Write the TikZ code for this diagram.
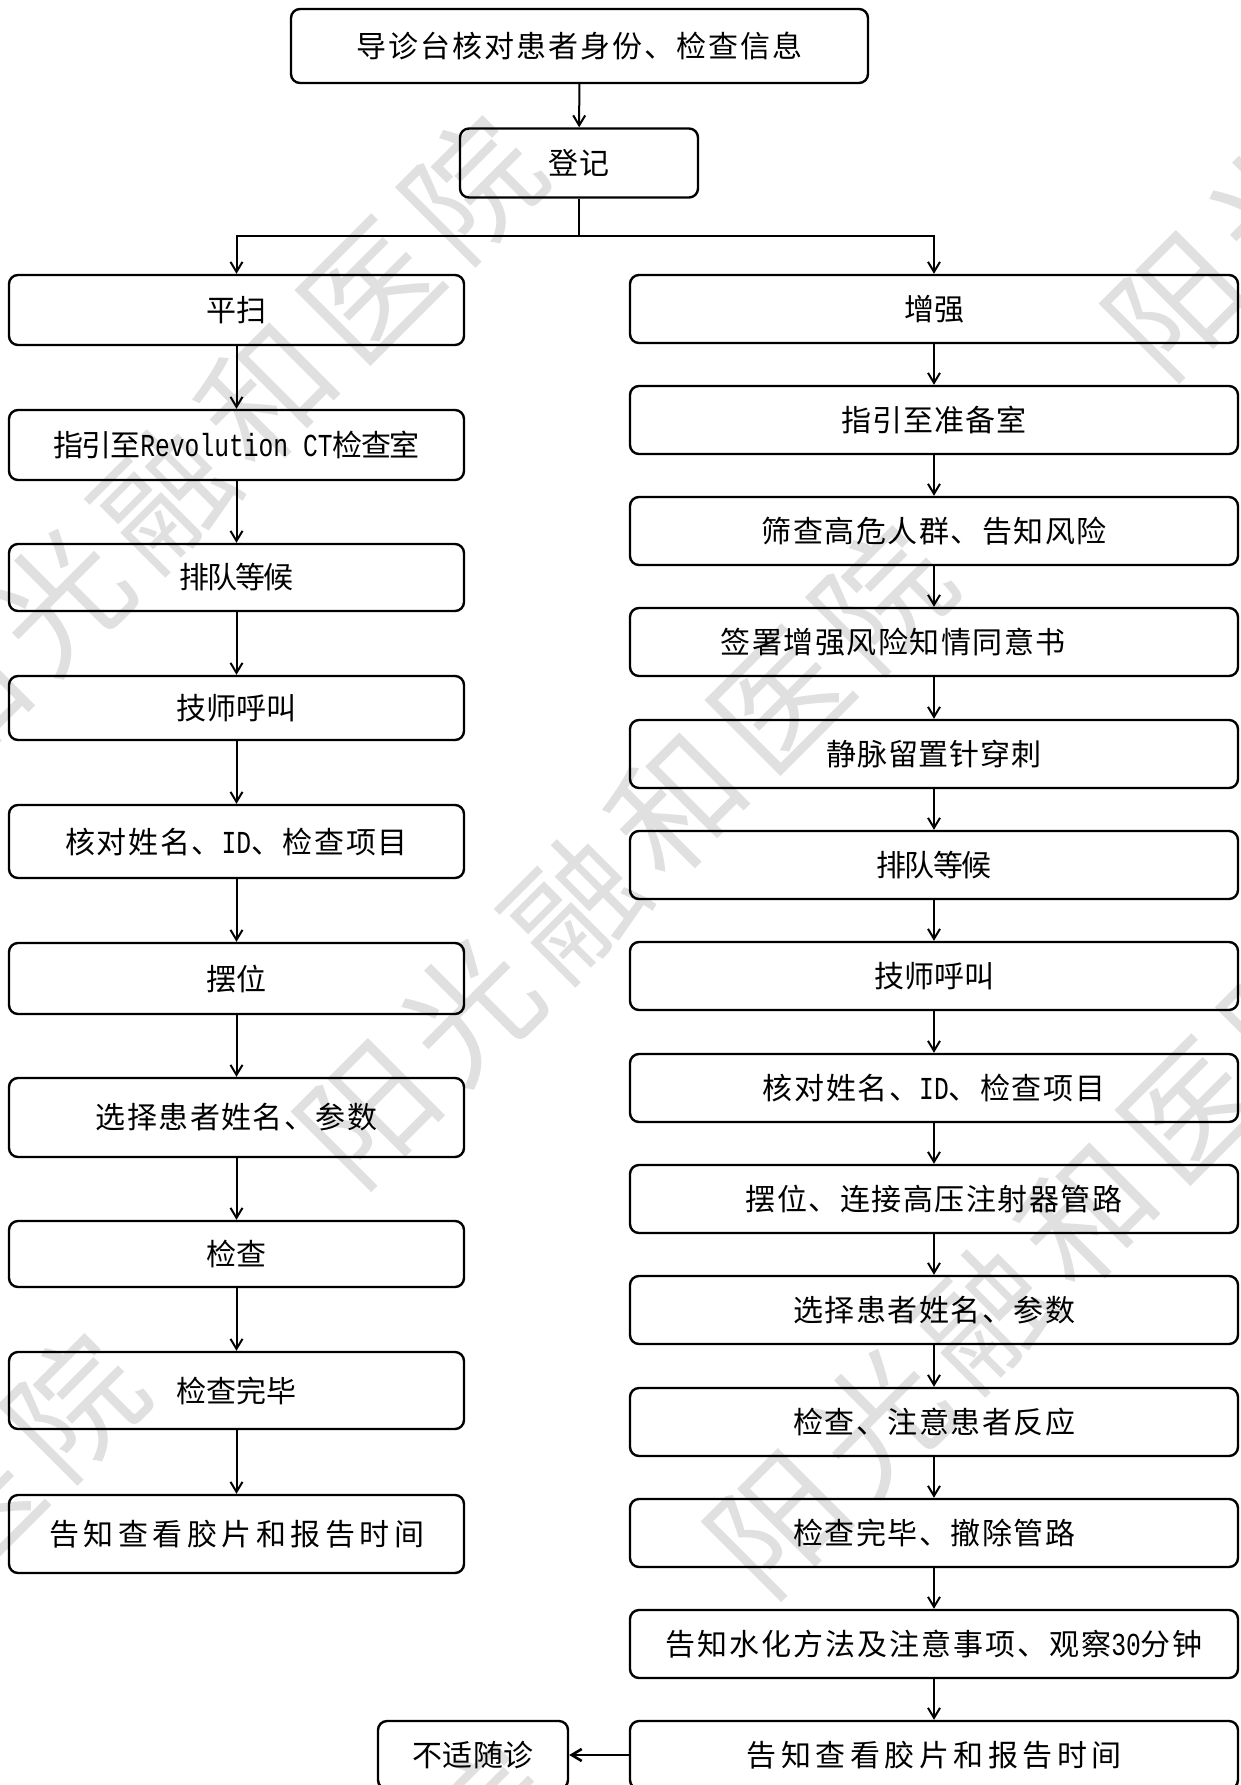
\documentclass[tikz,border=0pt]{standalone}
\usepackage{fontspec}
\setmainfont{Noto Sans CJK SC}
\newfontfamily\monolat{Liberation Mono}[FakeStretch=0.77]
\usetikzlibrary{arrows.meta,positioning}
\tikzset{
	box/.style={draw, line width=1.2pt, rounded corners=4.5pt, inner sep=0pt,
		minimum height=34pt, font=\fontsize{15pt}{18pt}\selectfont},
	lbox/.style={box, minimum width=227.5pt},
	rbox/.style={box, minimum width=304pt},
	sp/.style={font=\fontsize{15pt}{18pt}\selectfont\addfontfeature{LetterSpace=#1}},
	sp/.default=5,
	wm/.style={text=black!12, rotate=45, inner sep=0pt,
		font=\fontsize{65pt}{65pt}\selectfont\addfontfeature{LetterSpace=12}}
}
\newcommand{\lat}[1]{{\monolat\fontsize{16pt}{18pt}\selectfont #1}}

\begin{document}
\begin{tikzpicture}[x=0.5pt, y=-0.5pt, ->, >={Straight Barb[length=5pt,width=6pt]},
line width=1pt]
\useasboundingbox (0,0) rectangle (1241,1785);
% watermark
\foreach \wx/\wy in {215/445, 1023/-363, 625/855, 1433/47, -183/1663, 1035/1265, 227/2073, 1843/457}
	\node[wm] at (\wx,\wy) {阳光融和医院};
\node[box, sp=6.7, minimum width=288.5pt, minimum height=37pt] (top) at (579.5, 46) {导诊台核对患者身份、检查信息};
\node[box, sp, minimum width=119pt, minimum height=34.5pt] (reg) at (579, 163) {登记};
\coordinate (fork) at (579, 236);
% left column
\node[lbox, minimum height=35pt] (l1) at (236.5, 310) {平扫};
\node[lbox, sp=-5, minimum height=35pt] (l2) at (236.5, 445) {指引至\lat{Revolution CT}检查室};
\node[lbox, sp=-6, minimum height=33.5pt] (l3) at (236.5, 577.5) {排队等候};
\node[lbox, minimum height=32pt] (l4) at (236.5, 708) {技师呼叫};
\node[lbox, sp=5.3, minimum height=36.5pt] (l5) at (236.5, 841.5) {核对姓名、\lat{ID}、检查项目};
\node[lbox, minimum height=35.5pt] (l6) at (236.5, 978.5) {摆位};
\node[lbox, sp, minimum height=39.5pt] (l7) at (236.5, 1117.5) {选择患者姓名、参数};
\node[lbox, minimum height=33pt] (l8) at (236.5, 1254) {检查};
\node[lbox, minimum height=38.5pt] (l9) at (236.5, 1390.5) {检查完毕};
\node[lbox, sp=15, minimum height=39pt] (l10) at (236.5, 1534) {告知查看胶片和报告时间};
% right column
\node[rbox] (r1) at (934, 309) {增强};
\node[rbox, sp=3] (r2) at (934, 420) {指引至准备室};
\node[rbox, sp] (r3) at (934, 531) {筛查高危人群、告知风险};
\node[rbox] (r4) at (934, 642) {};
\node[sp, inner sep=0pt] (r4_t) at ([xshift=-20.5pt]r4.center) {签署增强风险知情同意书};
\node[rbox, sp=3] (r5) at (934, 754) {静脉留置针穿刺};
\node[rbox, sp=-6] (r6) at (934, 865) {排队等候};
\node[rbox] (r7) at (934, 976) {技师呼叫};
\node[rbox, sp=5.3] (r8) at (934, 1088) {核对姓名、\lat{ID}、检查项目};
\node[rbox, sp] (r9) at (934, 1199) {摆位、连接高压注射器管路};
\node[rbox, sp] (r10) at (934, 1310) {选择患者姓名、参数};
\node[rbox, sp] (r11) at (934, 1422) {检查、注意患者反应};
\node[rbox, sp] (r12) at (934, 1533) {检查完毕、撤除管路};
\node[rbox, sp=6.7] (r13) at (934, 1644) {告知水化方法及注意事项、观察\lat{30}分钟};
\node[rbox, sp=15] (r14) at (934, 1755) {告知查看胶片和报告时间};
\node[box, sp=2, minimum width=95pt] (unwell) at (473, 1755) {不适随诊};
% connectors
\draw (top) -- (reg);
\draw[-] (reg) -- (fork);
\draw (fork) -| (l1);
\draw (fork) -| (r1);
\foreach \a/\b in {l1/l2, l2/l3, l3/l4, l4/l5, l5/l6, l6/l7, l7/l8, l8/l9, l9/l10}
	\draw (\a) -- (\b);
\foreach \a/\b in {r1/r2, r2/r3, r3/r4, r4/r5, r5/r6, r6/r7, r7/r8, r8/r9, r9/r10, r10/r11, r11/r12, r12/r13, r13/r14}
	\draw (\a) -- (\b);
\draw[line width=1.3pt] (r14) -- (unwell);
\end{tikzpicture}
\end{document}
